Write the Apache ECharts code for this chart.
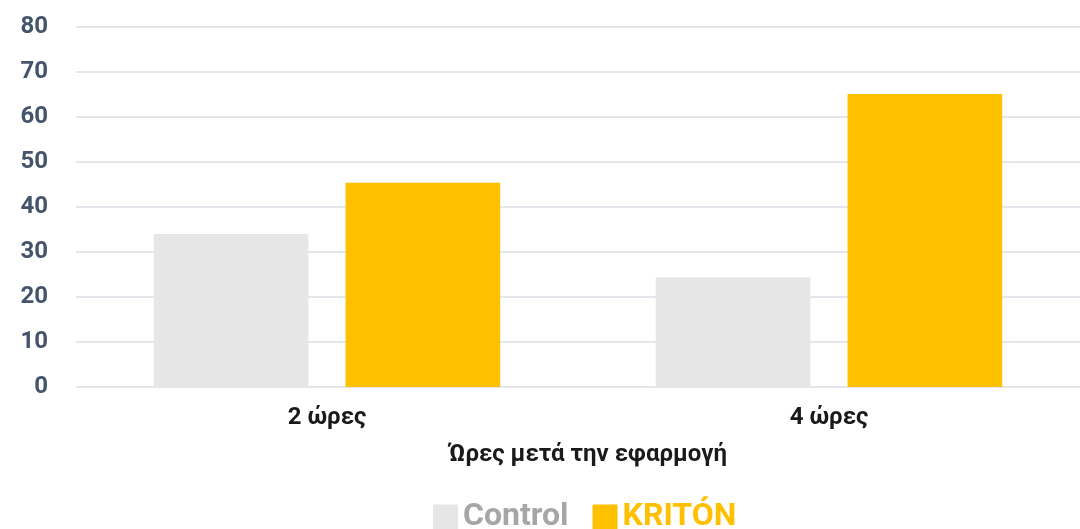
<!DOCTYPE html>
<html lang="el">
<head>
    <meta charset="UTF-8">
    <title>echarts</title>
    <script src="https://cdn.jsdelivr.net/npm/echarts@6/dist/echarts.min.js"></script>
</head>
<body style="margin:0;">
<div id="main" style="width:1080px;height:529px;"></div>
<script>
    // data
    let categories = ['2 ώρες', '4 ώρες'];
    let seriesNames = ['Control', 'KRITÓN'];
    let controlValues = [34, 24.4];
    let kritonValues = [45.4, 65.1];
    let yTicks = [0, 10, 20, 30, 40, 50, 60, 70, 80];

    let font = 'Roboto';
    let chart = echarts.init(document.getElementById('main'));
    let option = {
        animation: false,
        grid: {
            left: 76,
            width: 1010,
            top: 27,
            bottom: 142
        },
        legend: {
            bottom: -9,
            left: 428,
            icon: 'rect',
            itemWidth: 25,
            itemHeight: 25,
            itemGap: 24,
            textStyle: {fontFamily: font, fontWeight: 'bold', fontSize: 32},
            data: [
                {name: seriesNames[0], textStyle: {color: '#a6a6a6'}},
                {name: seriesNames[1], textStyle: {color: '#ffc000'}}
            ]
        },
        xAxis: {
            type: 'category',
            data: categories,
            name: 'Ώρες μετά την εφαρμογή',
            nameLocation: 'middle',
            nameGap: 56,
            nameTextStyle: {
                fontFamily: font, fontWeight: 'bold', fontSize: 24, color: '#1a1a1a',
                padding: [0, 0, 0, 20]
            },
            axisLine: {show: false},
            axisTick: {show: false},
            axisLabel: {
                margin: 19,
                fontFamily: font, fontWeight: 'bold', fontSize: 24, color: '#1a1a1a'
            }
        },
        yAxis: {
            type: 'value',
            min: yTicks[0],
            max: yTicks[yTicks.length - 1],
            interval: 10,
            axisLine: {show: false},
            axisTick: {show: false},
            splitLine: {lineStyle: {color: '#e3e7ec', width: 2}},
            axisLabel: {
                margin: 28,
                fontFamily: font, fontWeight: 'bold', fontSize: 24, color: '#44546a'
            }
        },
        series: [
            {
                name: seriesNames[0],
                type: 'bar',
                data: controlValues,
                barGap: '24%',
                barCategoryGap: '31%',
                itemStyle: {color: '#e6e6e6'}
            },
            {
                name: seriesNames[1],
                type: 'bar',
                data: kritonValues,
                itemStyle: {color: '#ffc000'}
            }
        ]
    };
    chart.setOption(option);
</script>
</body>
</html>
